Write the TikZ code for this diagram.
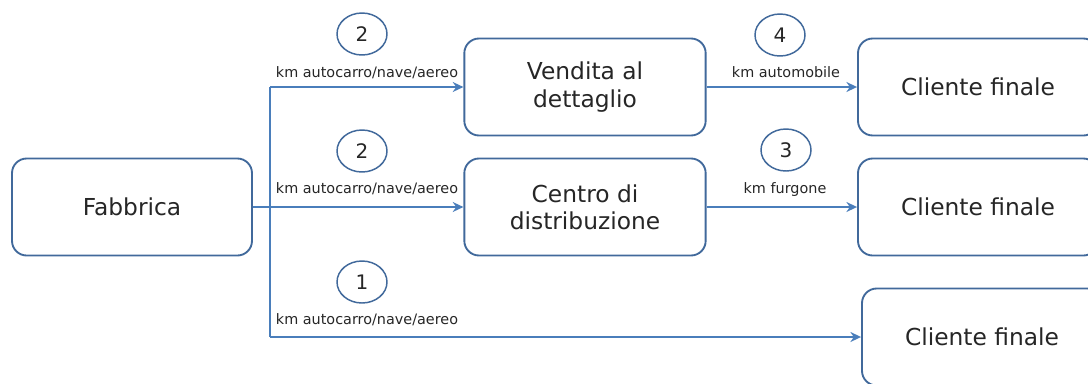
\documentclass[tikz,border=0pt]{standalone}
\usepackage{fontspec}
\setmainfont{DejaVu Sans}
\usetikzlibrary{arrows.meta,shapes.geometric}

\definecolor{boxblue}{HTML}{41699B}
\definecolor{arrblue}{HTML}{4A7EBB}
\definecolor{txtgray}{HTML}{262626}

\begin{document}
\begin{tikzpicture}[x=0.75pt,y=-0.75pt]
				\useasboundingbox (0,0) rectangle (1088,383);
				\begin{scope}[every node/.style={rectangle,rounded corners=11pt,draw=boxblue,line width=1.4pt,
                    text=txtgray,align=center,minimum width=181pt,minimum height=72.75pt,
                    font=\fontsize{17.5}{20.5}\selectfont}]
                    \node (fab) at (132,207) [minimum width=180pt] {Fabbrica};
                    \node (vend) at (585,87) {Vendita al\\dettaglio};
                    \node (centro) at (585,207) {Centro di\\distribuzione};
                    \node (cli1) at (978,87) [minimum width=180pt] {Cliente finale};
                    \node (cli2) at (978,207) [minimum width=180pt] {Cliente finale};
                    \node (cli3) at (982,337) [minimum width=180pt] {Cliente finale};
                \end{scope}

                \begin{scope}[every node/.style={ellipse,draw=boxblue,line width=1.1pt,inner sep=0pt,
                    minimum width=37.5pt,minimum height=31.5pt,text=txtgray,font=\fontsize{15}{15}\selectfont}]
                    \node (n1) at (362,34) {2};
                    \node (n2) at (362,151) {2};
                    \node (n3) at (362,282) {1};
                    \node (n4) at (780,35) {4};
                    \node (n5) at (786,150) {3};
                \end{scope}

                \begin{scope}[every node/.style={anchor=base,inner sep=0pt,text=txtgray,font=\fontsize{10.8}{12}\selectfont}]
                    \node (l1) at (367,77) {km autocarro/nave/aereo};
                    \node (l2) at (367,193) {km autocarro/nave/aereo};
                    \node (l3) at (367,324) {km autocarro/nave/aereo};
                    \node (l4) at (786,77) {km automobile};
                    \node (l5) at (785,193) {km furgone};
                \end{scope}

                \coordinate (t1) at (270,87);
                \coordinate (t2) at (270,207);
                \coordinate (t3) at (270,337);

                \begin{scope}[>={Stealth[length=8pt,width=7.5pt]},
                every edge/.style={draw=arrblue,line width=1.3pt}]
                    \path (fab) edge node {} (t2);
                    \path (t1) edge node {} (t3);
                    \path [->] (t1) edge node {} (vend);
                    \path [->] (t2) edge node {} (centro);
                    \path [->] (t3) edge node {} (cli3);
                    \path [->] (vend) edge node {} (cli1);
                    \path [->] (centro) edge node {} (cli2);
                \end{scope}
			\end{tikzpicture}
\end{document}
